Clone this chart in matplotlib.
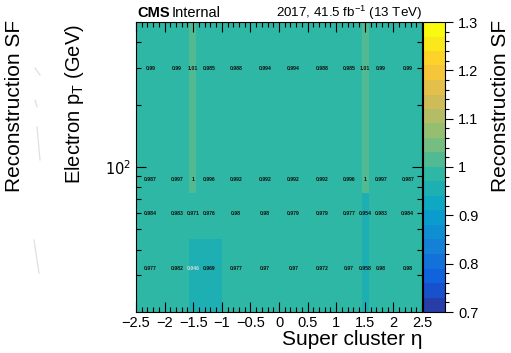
import numpy as np
import matplotlib
matplotlib.use("Agg")
import matplotlib.pyplot as plt
from matplotlib.colors import LinearSegmentedColormap, ListedColormap, BoundaryNorm
from matplotlib.ticker import FixedLocator, MultipleLocator, NullFormatter
from matplotlib.lines import Line2D

plt.rcParams['font.family'] = ['Liberation Sans', 'DejaVu Sans']

# binning
eta_edges = [-2.5, -2.0, -1.566, -1.444, -1.0, -0.5, 0.0, 0.5, 1.0, 1.444, 1.566, 2.0, 2.5]
pt_edges = [20, 45, 75, 100, 500]

# scale factors, one row per pT bin (low -> high)
sf_20_45 = [0.977, 0.982, 0.946, 0.969, 0.977, 0.97, 0.97, 0.972, 0.97, 0.958, 0.98, 0.98]
sf_45_75 = [0.984, 0.983, 0.971, 0.976, 0.98, 0.98, 0.979, 0.979, 0.977, 0.954, 0.983, 0.984]
sf_75_100 = [0.987, 0.997, 1.0, 0.996, 0.992, 0.992, 0.992, 0.992, 0.996, 1.0, 0.997, 0.987]
sf_100_500 = [0.99, 0.99, 1.01, 0.985, 0.988, 0.994, 0.994, 0.988, 0.985, 1.01, 0.99, 0.99]
sf = np.array([sf_20_45, sf_45_75, sf_75_100, sf_100_500])

xticks = [-2.5, -2, -1.5, -1, -0.5, 0, 0.5, 1, 1.5, 2, 2.5]
xticklabels = ['\u22122.5', '\u22122', '\u22121.5', '\u22121', '\u22120.5', '0', '0.5', '1', '1.5', '2', '2.5']
zticks = [0.7, 0.8, 0.9, 1.0, 1.1, 1.2, 1.3]
zticklabels = ['0.7', '0.8', '0.9', '1', '1.1', '1.2', '1.3']

# ROOT kBird palette, 20 contour levels picked the way ROOT does
stops = [0.0, 0.125, 0.25, 0.375, 0.5, 0.625, 0.75, 0.875, 1.0]
red = [0.2082, 0.0592, 0.0780, 0.0232, 0.1802, 0.5301, 0.8186, 0.9956, 0.9764]
green = [0.1664, 0.3599, 0.5041, 0.6419, 0.7178, 0.7492, 0.7328, 0.7862, 0.9832]
blue = [0.5293, 0.8684, 0.8385, 0.7914, 0.6425, 0.4662, 0.3499, 0.1968, 0.0539]
bird = LinearSegmentedColormap.from_list('bird', list(zip(stops, zip(red, green, blue))), N=256)
nlev = 20
levels = np.round(np.linspace(0.7, 1.3, nlev + 1), 3)
cmap = ListedColormap([bird((i + 0.99) / nlev) for i in range(nlev)])
norm = BoundaryNorm(levels, nlev)

W, H = 511, 353
fig = plt.figure(figsize=(W / 100, H / 100), dpi=100)
ax = fig.add_axes([136 / W, 1 - 312 / H, 286 / W, 290 / H])
cax = fig.add_axes([423 / W, 1 - 312 / H, 22 / W, 290 / H])

mesh = ax.pcolormesh(eta_edges, pt_edges, sf, cmap=cmap, norm=norm)
ax.set_yscale('log')
ax.set_xlim(-2.5, 2.5)
ax.set_ylim(20, 500)

# cell labels at linear bin centres (like ROOT TEXT)
for i in range(len(pt_edges) - 1):
    yc = 0.5 * (pt_edges[i] + pt_edges[i + 1])
    for j in range(len(eta_edges) - 1):
        xc = 0.5 * (eta_edges[j] + eta_edges[j + 1])
        col = '#d8d8d8' if (i == 0 and j == 2) else '#111111'
        ax.text(xc, yc, f"{sf[i, j]:.3g}", ha='center', va='center', fontsize=3.7,
                color=col, fontweight='bold')

ax.set_xticks(xticks)
ax.set_xticklabels(xticklabels, fontsize=10.5)
ax.xaxis.set_minor_locator(MultipleLocator(0.1))
ax.yaxis.set_major_locator(FixedLocator([100]))
ax.set_yticklabels(['$10^2$'])
ax.yaxis.set_minor_locator(FixedLocator([30, 40, 50, 60, 70, 80, 90, 200, 300, 400]))
ax.yaxis.set_minor_formatter(NullFormatter())
ax.tick_params(which='both', direction='in', top=True, right=True, width=0.8, labelsize=10.5)
ax.tick_params(which='major', length=7)
ax.tick_params(which='minor', length=3.5)
ax.tick_params(axis='x', pad=3)

ax.set_xlabel('Super cluster \u03b7', fontsize=15, loc='right', labelpad=0)
fig.text(75 / W, 1 - 24 / H, 'Electron p$_\\mathregular{T}$ (GeV)', rotation=90, ha='center', va='top', fontsize=14.5)
fig.text(15 / W, 1 - 20 / H, 'Reconstruction SF', rotation=90, ha='center', va='top', fontsize=15)

cb = fig.colorbar(mesh, cax=cax, ticks=zticks, boundaries=levels)
cb.outline.set_linewidth(0.8)
cax.set_yticklabels(zticklabels)
cax.tick_params(which='major', length=6, labelsize=10.5, width=0.8)
cax.yaxis.set_minor_locator(FixedLocator(np.round(np.arange(0.72, 1.3, 0.02), 2)))
cax.tick_params(which='minor', length=3, width=0.8)
fig.text(500 / W, 1 - 20 / H, 'Reconstruction SF', rotation=90, ha='center', va='top', fontsize=15)

fig.text(137 / W, 1 - 13 / H, 'CMS', fontweight='bold', fontsize=10.5, va='center', ha='left')
fig.text(172 / W, 1 - 13 / H, 'Internal', fontsize=10.5, va='center', ha='left')
fig.text(422 / W, 1 - 13 / H, '2017, 41.5 fb$^{\\mathregular{-1}}$ (13 TeV)', fontsize=9.6, va='center', ha='right')

# faint stray strokes seen at the left edge of the reference
for (x0, y0, x1, y1) in [(35, 68, 40, 75), (35, 100, 37, 107), (37, 127, 40, 160), (34, 240, 39, 273)]:
    fig.add_artist(Line2D([x0 / W, x1 / W], [1 - y0 / H, 1 - y1 / H], color='#e0e0e0', lw=0.9))

fig.savefig('out.png', dpi=100)
